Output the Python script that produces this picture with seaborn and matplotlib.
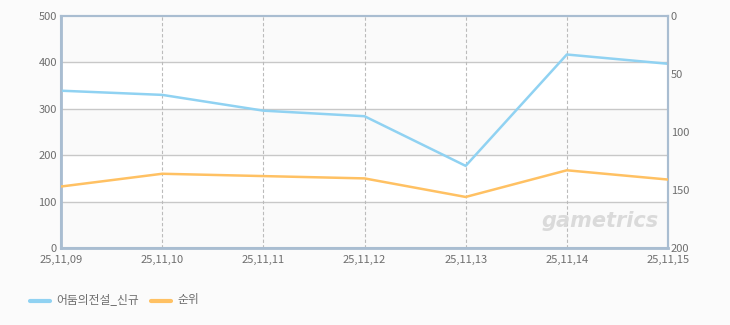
import matplotlib
matplotlib.use("Agg")
import matplotlib.pyplot as plt
import seaborn as sns
import pandas as pd

dates = ["25,11,09", "25,11,10", "25,11,11", "25,11,12", "25,11,13", "25,11,14", "25,11,15"]
new_users = [339, 330, 296, 284, 177, 417, 397]
rank = [147, 136, 138, 140, 156, 133, 141]
left_ticks = [0, 100, 200, 300, 400, 500]
right_ticks = [0, 50, 100, 150, 200]
series_names = ["어둠의전설_신규", "순위"]

sns.set_theme(style="white")
plt.rcParams['font.family'] = ['Noto Sans CJK KR', 'DejaVu Sans']

BLUE = "#90d2f2"
ORANGE = "#ffc163"
SPINE = "#a9bdd1"
TXT = "#6e6e6e"
BG = "#fbfbfb"

fig = plt.figure(figsize=(7.30, 3.25), dpi=100, facecolor=BG)
ax = fig.add_axes([61/730, 1-248/325, (668-61)/730, (248-16)/325])
ax.set_facecolor("white")

df = pd.DataFrame({"idx": list(range(len(dates))), "new": new_users, "rank": rank})

# alternating bands
for i, lo in enumerate(left_ticks[:-1]):
    if i % 2 == 0:
        ax.axhspan(lo, lo + 100, color="#fafafa", zorder=0, lw=0)

for y in left_ticks[1:-1]:
    ax.axhline(y, color="#c8c8c8", lw=1, zorder=1)
for x in range(1, len(dates) - 1):
    ax.axvline(x, color="#bbbbbb", lw=0.8, ls=(0, (3, 2)), zorder=1)

sns.lineplot(data=df, x="idx", y="new", ax=ax, color=BLUE, lw=1.8, zorder=3, legend=False)
ax.set_xlim(0, len(dates) - 1)
ax.set_ylim(0, 500)
ax.set_yticks(left_ticks)
ax.set_xticks(range(len(dates)))
ax.set_xticklabels(dates)
ax.set_xlabel("")
ax.set_ylabel("")

ax2 = ax.twinx()
sns.lineplot(data=df, x="idx", y="rank", ax=ax2, color=ORANGE, lw=1.8, zorder=3, legend=False)
ax2.set_ylim(200, 0)
ax2.set_yticks(right_ticks)
ax2.set_ylabel("")
ax2.set_xlim(0, len(dates) - 1)

for a in (ax, ax2):
    a.tick_params(axis="both", length=0, pad=2, labelsize=8, labelcolor=TXT)
    for s in a.spines.values():
        s.set_color(SPINE)
        s.set_linewidth(1.5)
ax.spines["left"].set_linewidth(2)
ax.spines["bottom"].set_linewidth(2)
ax.tick_params(axis="x", pad=5)
ax.tick_params(axis="y", pad=3)
# nudge the edge labels upward slightly so they do not collide with x labels
for lbl in ax.get_yticklabels() + ax2.get_yticklabels():
    lbl.set_verticalalignment("center_baseline")

ax.text(0.985, 0.075, "gametrics", transform=ax.transAxes, ha="right", va="bottom",
        fontsize=15, fontstyle="italic", fontweight="bold", color="#dadada",
        family="DejaVu Sans", zorder=2)

# legend
fig.lines.append(plt.Line2D([30/730, 50/730], [1-301/325]*2, color=BLUE, lw=3, transform=fig.transFigure))
fig.text(56/730, 1-300/325, series_names[0], color=TXT, fontsize=8.5, va="center")
fig.lines.append(plt.Line2D([151/730, 171/730], [1-301/325]*2, color=ORANGE, lw=3, transform=fig.transFigure))
fig.text(177/730, 1-300/325, series_names[1], color=TXT, fontsize=8.5, va="center")

fig.savefig("out.png", dpi=100, facecolor=BG)
